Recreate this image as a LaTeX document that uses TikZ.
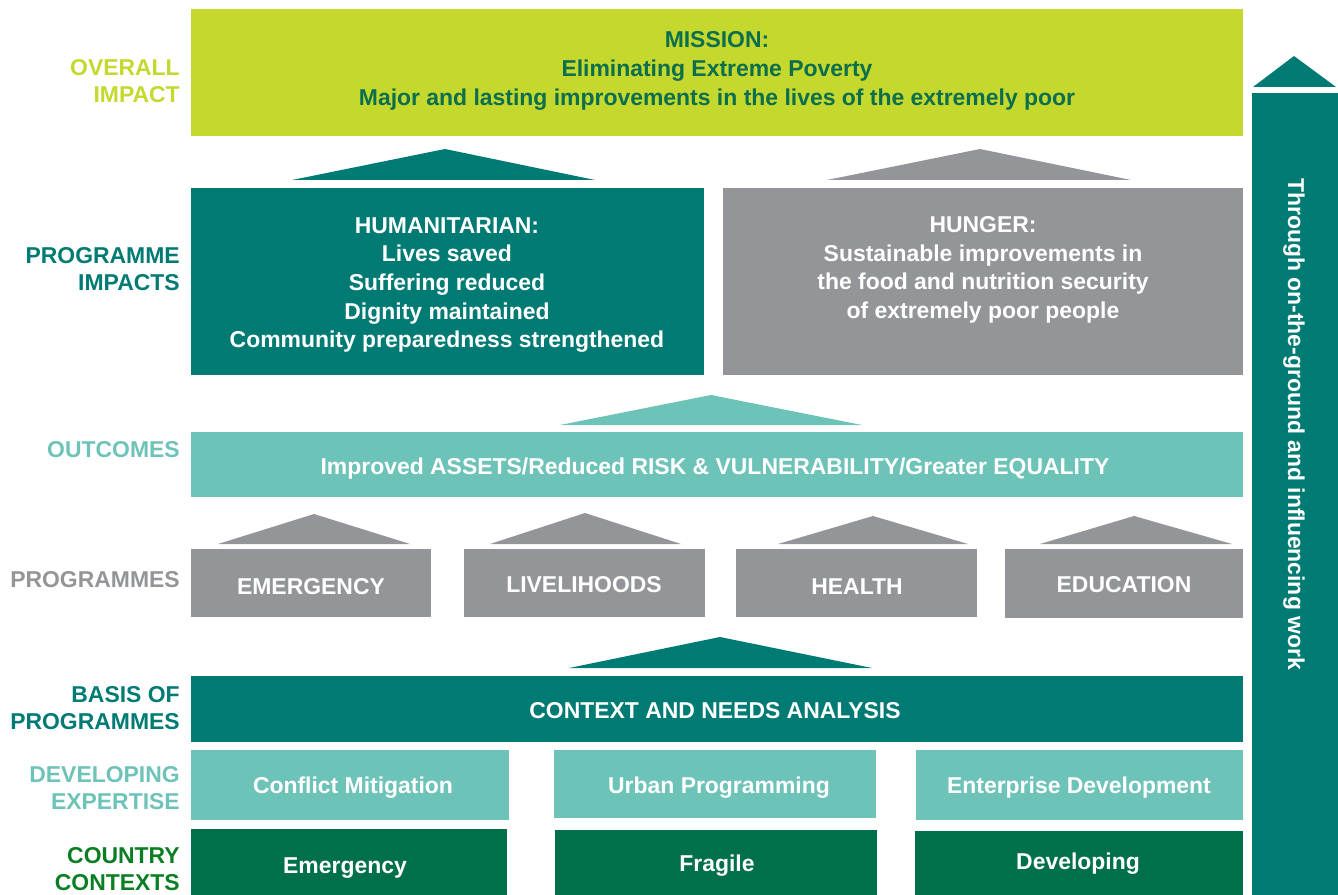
\documentclass[tikz,border=0pt]{standalone}
\usepackage{fontspec}
\setmainfont{Liberation Sans}
\usetikzlibrary{fit}
\definecolor{lime}{HTML}{C5D82E}
\definecolor{tealc}{HTML}{007B74}
\definecolor{greyc}{HTML}{939598}
\definecolor{lteal}{HTML}{6EC3B9}
\definecolor{dgreen}{HTML}{00704A}
\definecolor{lgreen}{HTML}{0A7E22}
\definecolor{mtext}{HTML}{0B6E4C}
\tikzset{
  box/.style={inner sep=0pt, outer sep=0pt},
  txt/.style={inner sep=0pt, align=center, text=white, font=\bfseries\fontsize{17.2}{21.5}\selectfont},
  lab/.style={anchor=east, align=right, inner sep=0pt, font=\bfseries\fontsize{17.2}{20.3}\selectfont}
}
\begin{document}
\begin{tikzpicture}[x=0.75pt,y=-0.75pt]
\useasboundingbox (0,0) rectangle (1338,895);
% overall impact
\node[box, fill=lime, fit={(191,9)(1243,136)}] (mission) {};
\node[txt, text=mtext] (missiont) at (717,71) {MISSION:\\Eliminating Extreme Poverty\\Major and lasting improvements in the lives of the extremely poor};
\node[lab, text=lime] (l1) at (180,81) {OVERALL\\IMPACT};
% triangles to mission
\fill[tealc] (292,180) -- (445,149) -- (595,180) -- cycle;
\fill[greyc] (827,180) -- (980,149) -- (1131,180) -- cycle;
% programme impacts
\node[box, fill=tealc, fit={(191,188)(704,375)}] (hum) {};
\node[txt] (humt) at (447,285) {HUMANITARIAN:\\Lives saved\\Suffering reduced\\Dignity maintained\\Community preparedness strengthened};
\node[box, fill=greyc, fit={(723,188)(1243,375)}] (hung) {};
\node[txt] (hungt) at (983,270) {HUNGER:\\Sustainable improvements in\\the food and nutrition security\\of extremely poor people};
\node[lab, text=tealc] (l2) at (180,269) {PROGRAMME\\IMPACTS};
% outcomes
\fill[lteal] (560,425) -- (711,395) -- (862,425) -- cycle;
\node[box, fill=lteal, fit={(191,432)(1243,497)}] (out) {};
\node[txt] (outt) at (715,469) {Improved ASSETS/Reduced RISK \& VULNERABILITY/Greater EQUALITY};
\node[lab, text=lteal] (l3) at (180,450) {OUTCOMES};
% programmes
\fill[greyc] (218,544) -- (314,514) -- (410,544) -- cycle;
\fill[greyc] (490,544) -- (585,513) -- (681,544) -- cycle;
\fill[greyc] (778,544) -- (873,516) -- (968,544) -- cycle;
\fill[greyc] (1040,544) -- (1134,516) -- (1232,544) -- cycle;
\node[box, fill=greyc, fit={(191,549)(431,617)}] (p1) {};
\node[txt] (p1t) at (311,587) {EMERGENCY};
\node[box, fill=greyc, fit={(464,549)(705,617)}] (p2) {};
\node[txt] (p2t) at (584,585) {LIVELIHOODS};
\node[box, fill=greyc, fit={(736,549)(977,617)}] (p3) {};
\node[txt] (p3t) at (857,587) {HEALTH};
\node[box, fill=greyc, fit={(1005,549)(1243,618)}] (p4) {};
\node[txt] (p4t) at (1124,585) {EDUCATION};
\node[lab, text=greyc] (l4) at (180,580) {PROGRAMMES};
% basis
\fill[tealc] (569,668) -- (720,637) -- (872,668) -- cycle;
\node[box, fill=tealc, fit={(191,676)(1243,742)}] (ctx) {};
\node[txt] (ctxt) at (715,711) {CONTEXT AND NEEDS ANALYSIS};
\node[lab, text=tealc] (l5) at (180,708) {BASIS OF\\PROGRAMMES};
% expertise
\node[box, fill=lteal, fit={(191,750)(509,820)}] (e1) {};
\node[txt] (e1t) at (353,788) {Conflict Mitigation};
\node[box, fill=lteal, fit={(554,750)(876,818)}] (e2) {};
\node[txt] (e2t) at (719,788) {Urban Programming};
\node[box, fill=lteal, fit={(916,750)(1243,820)}] (e3) {};
\node[txt] (e3t) at (1079,788) {Enterprise Development};
\node[lab, text=lteal] (l6) at (180,788) {DEVELOPING\\EXPERTISE};
% country
\node[box, fill=dgreen, fit={(191,829)(507,895)}] (c1) {};
\node[txt] (c1t) at (345,868) {Emergency};
\node[box, fill=dgreen, fit={(555,830)(877,895)}] (c2) {};
\node[txt] (c2t) at (717,866) {Fragile};
\node[box, fill=dgreen, fit={(915,831)(1243,895)}] (c3) {};
\node[txt] (c3t) at (1078,864) {Developing};
\node[lab, text=lgreen] (l7) at (180,869) {COUNTRY\\CONTEXTS};
% right arrow
\fill[tealc] (1253,87) -- (1294,56) -- (1336,87) -- cycle;
\node[box, fill=tealc, fit={(1252,93)(1338,895)}] (side) {};
\node[txt, rotate=-90] (sidet) at (1294,424) {Through on-the-ground and influencing work};
\end{tikzpicture}
\end{document}
